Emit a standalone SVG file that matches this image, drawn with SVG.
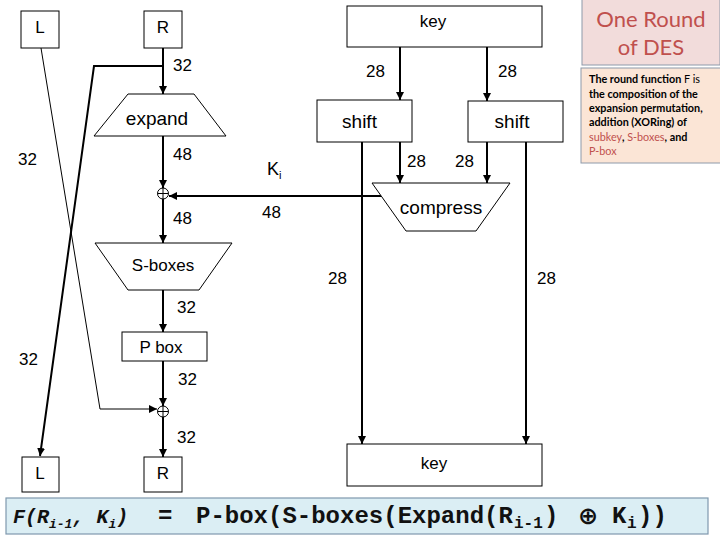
<svg xmlns="http://www.w3.org/2000/svg" width="720" height="540" viewBox="0 0 720 540">
<style>
.box{fill:#fff;stroke:#000;stroke-width:1}
.t{font-family:"Liberation Sans",Arial,sans-serif;fill:#000}
.n{font-family:"Liberation Sans",Arial,sans-serif;font-size:17px;fill:#000}
.thick{stroke:#000;stroke-width:2;fill:none}
.thin{stroke:#000;stroke-width:1;fill:none}
.xor{fill:#fff;stroke:#000;stroke-width:1}
.note{font-family:Lato,"Open Sans",sans-serif;font-size:10.8px;fill:#000}
.red{fill:#c0504d;font-weight:normal}
.f{font-family:"Liberation Mono","Courier New",monospace;font-weight:bold;fill:#111}
</style>
<defs>
<marker id="ah" markerUnits="userSpaceOnUse" markerWidth="8" markerHeight="8" refX="8" refY="4" orient="auto">
<path d="M0,0 L8,4 L0,8 z" fill="#000"/>
</marker>
</defs>

<g id="connectors">
<line class="thick" x1="163" y1="48" x2="163" y2="94" marker-end="url(#ah)"/>
<polyline class="thick" points="163,66 94,66 40,456" marker-end="url(#ah)"/>
<polyline class="thin" points="41,48 100,409 157,409" marker-end="url(#ah)"/>
<line class="thick" x1="163" y1="136" x2="163" y2="188" marker-end="url(#ah)"/>
<line class="thick" x1="163" y1="199" x2="163" y2="243" marker-end="url(#ah)"/>
<line class="thick" x1="381" y1="196" x2="169" y2="196" marker-end="url(#ah)"/>
<line class="thick" x1="163" y1="290" x2="163" y2="332" marker-end="url(#ah)"/>
<line class="thick" x1="163" y1="361" x2="163" y2="406" marker-end="url(#ah)"/>
<line class="thick" x1="163" y1="417" x2="163" y2="457" marker-end="url(#ah)"/>
<line class="thick" x1="400" y1="47" x2="400" y2="100" marker-end="url(#ah)"/>
<line class="thick" x1="487" y1="47" x2="487" y2="101" marker-end="url(#ah)"/>
<line class="thick" x1="400" y1="142" x2="400" y2="183" marker-end="url(#ah)"/>
<line class="thick" x1="487" y1="142" x2="487" y2="183" marker-end="url(#ah)"/>
<line class="thick" x1="362" y1="142" x2="362" y2="444" marker-end="url(#ah)"/>
<line class="thick" x1="526" y1="142" x2="526" y2="444" marker-end="url(#ah)"/>
</g>

<g id="labels">
<text class="n" x="173" y="71">32</text>
<text class="n" x="366" y="77">28</text>
<text class="n" x="498" y="77">28</text>
<text class="n" x="18" y="165">32</text>
<text class="n" x="173" y="160">48</text>
<text class="n" x="407" y="167">28</text>
<text class="n" x="455" y="167">28</text>
<text class="t" x="267" y="175" font-size="18">K<tspan font-size="11" dy="4">i</tspan></text>
<text class="n" x="262" y="218">48</text>
<text class="n" x="173" y="224">48</text>
<text class="n" x="177" y="313">32</text>
<text class="n" x="178" y="385">32</text>
<text class="n" x="177" y="443">32</text>
<text class="n" x="19" y="365">32</text>
<text class="n" x="328" y="284">28</text>
<text class="n" x="537" y="284">28</text>
</g>

<g id="L_top"><rect class="box" x="21" y="11" width="38" height="37"/><text class="t" x="40" y="33" font-size="17" text-anchor="middle">L</text></g>
<g id="R_top"><rect class="box" x="144" y="11" width="38" height="37"/><text class="t" x="163" y="33" font-size="17" text-anchor="middle">R</text></g>
<g id="key_top"><rect class="box" x="347" y="6" width="195" height="41"/><text class="t" x="433" y="27" font-size="17" text-anchor="middle">key</text></g>
<g id="expand"><polygon class="box" points="128,94 194,94 226,136 94,136"/><text class="t" x="157" y="125" font-size="19" text-anchor="middle">expand</text></g>
<g id="shift_left"><rect class="box" x="317" y="100" width="95" height="42"/><text class="t" x="359.5" y="128" font-size="19" text-anchor="middle">shift</text></g>
<g id="shift_right"><rect class="box" x="468" y="101" width="95" height="41"/><text class="t" x="512" y="128" font-size="19" text-anchor="middle">shift</text></g>
<g id="compress"><polygon class="box" points="372,183 510,183 476,231 406,231"/><text class="t" x="441" y="214" font-size="19" text-anchor="middle">compress</text></g>
<g id="xor1"><circle class="xor" cx="163" cy="193.5" r="5.5"/><path class="thin" d="M157.5,193.5 H168.5 M163,188 V199"/></g>
<g id="sboxes"><polygon class="box" points="95,243 232,243 199,290 128,290"/><text class="t" x="163" y="271" font-size="17" text-anchor="middle">S-boxes</text></g>
<g id="pbox"><rect class="box" x="122" y="332" width="85" height="29"/><text class="t" x="161" y="353" font-size="17" text-anchor="middle">P box</text></g>
<g id="xor2"><circle class="xor" cx="163" cy="411.5" r="5.5"/><path class="thin" d="M157.5,411.5 H168.5 M163,406 V417"/></g>
<g id="L_bot"><rect class="box" x="22" y="457" width="37" height="35"/><text class="t" x="40" y="479" font-size="17" text-anchor="middle">L</text></g>
<g id="R_bot"><rect class="box" x="144" y="457" width="38" height="35"/><text class="t" x="163" y="479" font-size="17" text-anchor="middle">R</text></g>
<g id="key_bot"><rect class="box" x="347" y="444" width="195" height="42"/><text class="t" x="434" y="469" font-size="17" text-anchor="middle">key</text></g>

<g id="title">
<rect x="582" y="-1" width="138" height="66" fill="#f2dcdb" stroke="#8e9aaa" stroke-width="1"/>
<text x="651" y="27" font-family="Lato,'Open Sans',sans-serif" font-size="22" fill="#c0504d" text-anchor="middle">One Round</text>
<text x="651" y="55" font-family="Lato,'Open Sans',sans-serif" font-size="22" fill="#c0504d" text-anchor="middle">of DES</text>
</g>
<g id="note">
<rect x="581" y="68" width="140" height="95" fill="#fbe5d6" stroke="#8e9aaa" stroke-width="1"/>
<text class="note" x="589" y="83" font-weight="bold">The round function<tspan font-weight="normal"> F is</tspan></text>
<text class="note" x="589" y="98" font-weight="bold">the composition of the</text>
<text class="note" x="589" y="112" font-weight="bold">expansion permutation,</text>
<text class="note" x="589" y="126" font-weight="bold">addition (XORing) of</text>
<text class="note" x="589" y="141" font-weight="bold"><tspan class="red">subkey</tspan>, <tspan class="red">S-boxes</tspan>, and</text>
<text class="note" x="589" y="155"><tspan class="red">P-box</tspan></text>
</g>

<g id="formula">
<rect x="6" y="498" width="702" height="36" fill="#dbeef4" stroke="#7f98ad" stroke-width="1.2"/>
<text class="f" y="523"><tspan x="13" font-style="italic" font-size="20">F(R</tspan><tspan font-style="italic" font-size="13" dy="5">i-1</tspan><tspan font-style="italic" font-size="20" dy="-5">, K</tspan><tspan font-style="italic" font-size="13" dy="5">i</tspan><tspan font-style="italic" font-size="20" dy="-5">)</tspan><tspan x="158" font-size="24">=</tspan><tspan x="196" font-size="24">P-box(S-boxes(Expand(R</tspan><tspan x="514" font-size="16" dy="5">i-1</tspan><tspan x="544" font-size="24" dy="-5">)</tspan><tspan x="612" font-size="24">K</tspan><tspan x="627" font-size="16" dy="5">i</tspan><tspan x="638" font-size="24" dy="-5">))</tspan></text>
<text x="588" y="524" font-family="'DejaVu Sans',sans-serif" font-size="24" font-weight="bold" text-anchor="middle" fill="#111">⊕</text>
</g>
</svg>
